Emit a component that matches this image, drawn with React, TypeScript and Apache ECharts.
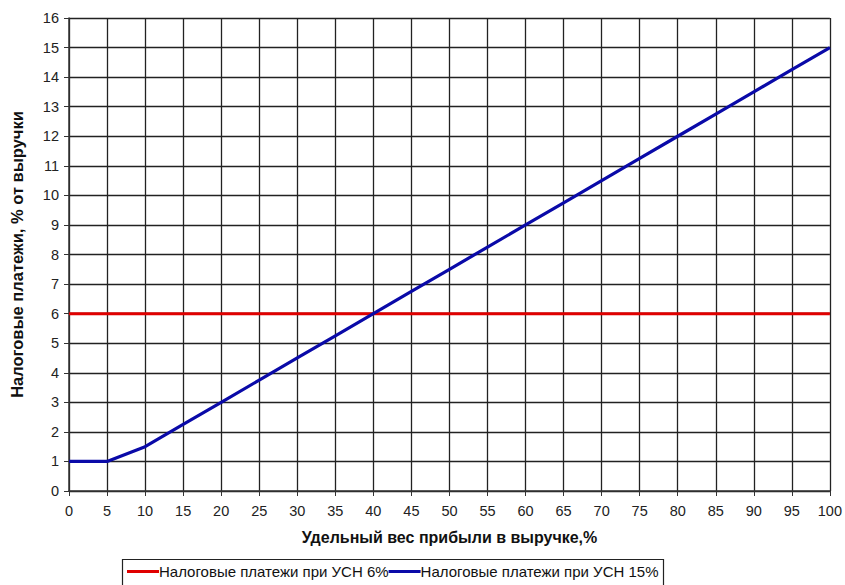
import React, { useEffect, useRef } from "react";
import * as echarts from "echarts";

const xValues = [0, 5, 10, 15, 20, 25, 30, 35, 40, 45, 50, 55, 60, 65, 70, 75, 80, 85, 90, 95, 100];
const usn6 = [6, 6, 6, 6, 6, 6, 6, 6, 6, 6, 6, 6, 6, 6, 6, 6, 6, 6, 6, 6, 6];
const usn15 = [1, 1, 1.5, 2.25, 3, 3.75, 4.5, 5.25, 6, 6.75, 7.5, 8.25, 9, 9.75, 10.5, 11.25, 12, 12.75, 13.5, 14.25, 15];
const seriesNames = ["Налоговые платежи при УСН 6%", "Налоговые платежи при УСН 15%"];
const xTitle = "Удельный вес прибыли в выручке,%";
const yTitle = "Налоговые платежи, % от выручки";

export default function App() {
  const ref = useRef<HTMLDivElement>(null);
  useEffect(() => {
    const chart = echarts.init(ref.current!, null, { renderer: "svg" });
    const font = "'Liberation Sans', Arial, sans-serif";
    chart.setOption({
      animation: false,
      backgroundColor: "#ffffff",
      textStyle: { fontFamily: font },
      grid: { left: 68, right: 13, top: 18, bottom: 94 },
      graphic: [
        {
          type: "rect",
          shape: { x: 122.5, y: 559.5, width: 541, height: 40 },
          style: { fill: "none", stroke: "#222", lineWidth: 1.2 },
          z: 10,
        },
      ],
      legend: {
        left: 123,
        top: 562,
        itemGap: 0,
        itemWidth: 32,
        itemHeight: 3,
        icon: "rect",
        padding: [2, 4, 2, 4],
        textStyle: { fontFamily: font, fontSize: 15, color: "#111", padding: [0, 0, 0, -5] },
        data: seriesNames,
      },
      xAxis: {
        type: "value",
        min: 0,
        max: 100,
        interval: 5,
        name: xTitle,
        nameLocation: "middle",
        nameGap: 38,
        nameTextStyle: { fontFamily: font, fontSize: 16, fontWeight: "bold", color: "#111" },
        axisLine: { lineStyle: { color: "#333", width: 1.5 } },
        axisTick: { show: true, length: 5, lineStyle: { color: "#333" } },
        axisLabel: { fontFamily: font, fontSize: 14.5, color: "#222", margin: 12 },
        splitLine: { show: true, lineStyle: { color: "#222", width: 1.3 } },
      },
      yAxis: {
        type: "value",
        min: 0,
        max: 16,
        interval: 1,
        name: yTitle,
        nameLocation: "middle",
        nameGap: 44,
        nameTextStyle: { fontFamily: font, fontSize: 16.5, fontWeight: "bold", color: "#111" },
        axisLine: { show: true, lineStyle: { color: "#333", width: 1.5 } },
        axisTick: { show: true, length: 5, lineStyle: { color: "#333" } },
        axisLabel: { fontFamily: font, fontSize: 14.5, color: "#222", margin: 10 },
        splitLine: { show: true, lineStyle: { color: "#222", width: 1.3 } },
      },
      series: [
        {
          name: seriesNames[0],
          type: "line",
          data: xValues.map((x, i) => [x, usn6[i]]),
          symbol: "none",
          lineStyle: { color: "#e00000", width: 3 },
          itemStyle: { color: "#e00000" },
        },
        {
          name: seriesNames[1],
          type: "line",
          data: xValues.map((x, i) => [x, usn15[i]]),
          symbol: "none",
          lineStyle: { color: "#0a0aa8", width: 3.2 },
          itemStyle: { color: "#0a0aa8" },
        },
      ],
    });
    return () => chart.dispose();
  }, []);
  return (
    <div
      ref={ref}
      style={{ position: "fixed", left: 0, top: 0, width: 845, height: 585, background: "#fff" }}
    />
  );
}
